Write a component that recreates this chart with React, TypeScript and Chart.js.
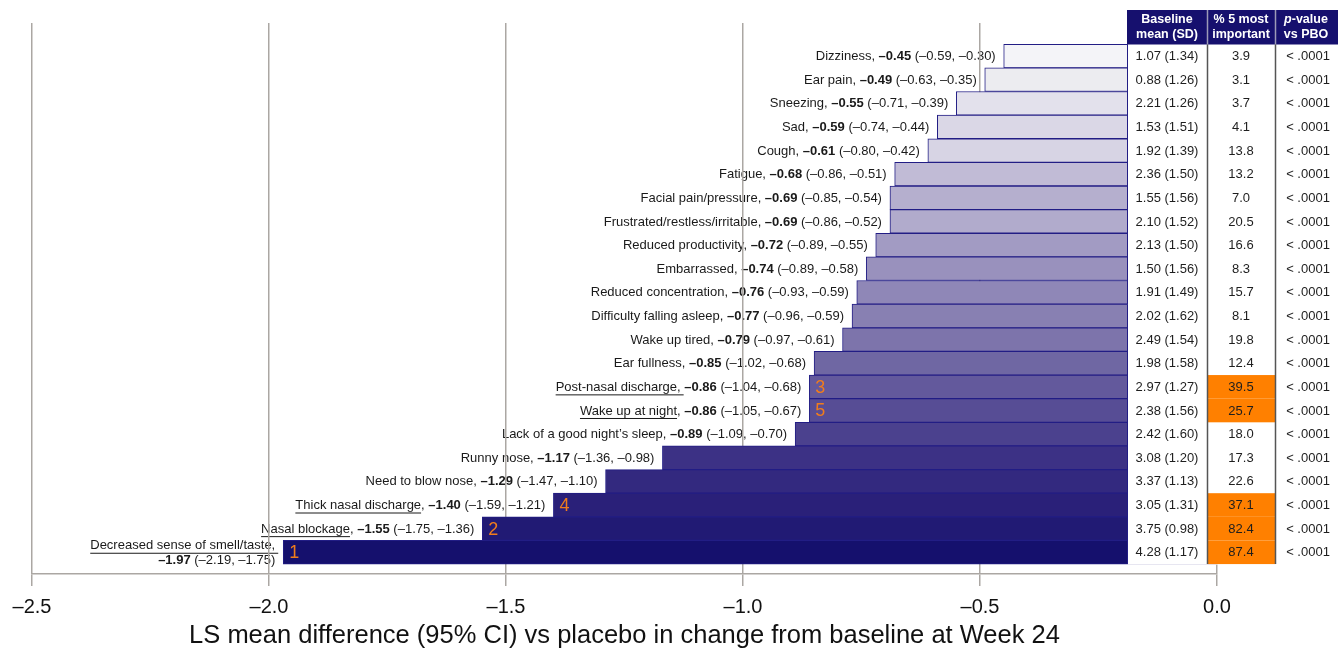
import React, { useEffect, useRef } from 'react';
import { Chart, registerables } from 'chart.js';

Chart.register(...registerables);

const SYMPTOMS = [
  'Dizziness', 'Ear pain', 'Sneezing', 'Sad', 'Cough', 'Fatigue', 'Facial pain/pressure',
  'Frustrated/restless/irritable', 'Reduced productivity', 'Embarrassed', 'Reduced concentration',
  'Difficulty falling asleep', 'Wake up tired', 'Ear fullness', 'Post-nasal discharge',
  'Wake up at night', 'Lack of a good night\u2019s sleep', 'Runny nose', 'Need to blow nose',
  'Thick nasal discharge', 'Nasal blockage', 'Decreased sense of smell/taste',
];
const LS_MEAN_DIFF = [-0.45, -0.49, -0.55, -0.59, -0.61, -0.68, -0.69, -0.69, -0.72, -0.74, -0.76, -0.77, -0.79, -0.85, -0.86, -0.86, -0.89, -1.17, -1.29, -1.40, -1.55, -1.97];
const CI_LOW = [-0.59, -0.63, -0.71, -0.74, -0.80, -0.86, -0.85, -0.86, -0.89, -0.89, -0.93, -0.96, -0.97, -1.02, -1.04, -1.05, -1.09, -1.36, -1.47, -1.59, -1.75, -2.19];
const CI_HIGH = [-0.30, -0.35, -0.39, -0.44, -0.42, -0.51, -0.54, -0.52, -0.55, -0.58, -0.59, -0.59, -0.61, -0.68, -0.68, -0.67, -0.70, -0.98, -1.10, -1.21, -1.36, -1.75];
const BASELINE_MEAN = ['1.07', '0.88', '2.21', '1.53', '1.92', '2.36', '1.55', '2.10', '2.13', '1.50', '1.91', '2.02', '2.49', '1.98', '2.97', '2.38', '2.42', '3.08', '3.37', '3.05', '3.75', '4.28'];
const BASELINE_SD = ['1.34', '1.26', '1.26', '1.51', '1.39', '1.50', '1.56', '1.52', '1.50', '1.56', '1.49', '1.62', '1.54', '1.58', '1.27', '1.56', '1.60', '1.20', '1.13', '1.31', '0.98', '1.17'];
const PCT_TOP5 = ['3.9', '3.1', '3.7', '4.1', '13.8', '13.2', '7.0', '20.5', '16.6', '8.3', '15.7', '8.1', '19.8', '12.4', '39.5', '25.7', '18.0', '17.3', '22.6', '37.1', '82.4', '87.4'];
const P_VALUE = ['< .0001', '< .0001', '< .0001', '< .0001', '< .0001', '< .0001', '< .0001', '< .0001', '< .0001', '< .0001', '< .0001', '< .0001', '< .0001', '< .0001', '< .0001', '< .0001', '< .0001', '< .0001', '< .0001', '< .0001', '< .0001', '< .0001'];
const RANK = [null, null, null, null, null, null, null, null, null, null, null, null, null, null, 3, 5, null, null, null, 4, 2, 1];
const X_TICKS_STEP = 0.5;
const X_TITLE = 'LS mean difference (95% CI) vs placebo in change from baseline at Week 24';
const HEADERS = [['Baseline', 'mean (SD)'], ['% 5 most', 'important'], ['p-value', 'vs PBO']];

// styles
const BAR_COLORS = [
  '#f4f4f8', '#ececf0', '#e3e1ec', '#dad7e6', '#d7d4e4', '#c1bbd6', '#b5afce', '#b1abcc',
  '#a29bc3', '#9991bd', '#8f87b7', '#8880b2', '#7d74ab', '#6f67a3', '#63599c', '#574d95',
  '#4b418e', '#3c3185', '#33297f', '#2a2079', '#211a74', '#15106d',
];
const UNDERLINE_COMMA = [14, 21];
const FONT = '"Liberation Sans", Arial, sans-serif';
const NAVY = '#16106e';
const ORANGE = '#ff8000';
const GRID = '#aba7a3';
const TABLE_LEFT = 1127;
const TABLE_RIGHT = 1338;
const COL_SEP = [1207.5, 1275.5];
const COL_CENTERS = [1167, 1241, 1308];
const HEADER_TOP = 10;
const HEADER_BOTTOM = 44.5;

const fmt = (v: number) => (v < 0 ? '\u2013' : '') + Math.abs(v).toFixed(2);

function rowGeom(chart: any) {
  const y = chart.scales.y;
  const h = y.getPixelForValue(1) - y.getPixelForValue(0);
  return { y, h };
}

const labelsPlugin = {
  id: 'symptomLabels',
  beforeDraw(chart: any) {
    const ctx = chart.ctx;
    const x = chart.scales.x;
    const { y } = rowGeom(chart);
    ctx.save();
    ctx.textBaseline = 'middle';
    ctx.fillStyle = '#1a1a1a';
    ctx.strokeStyle = '#1a1a1a';
    ctx.lineWidth = 1;
    const normal = `13px ${FONT}`;
    const bold = `bold 13px ${FONT}`;
    SYMPTOMS.forEach((name, i) => {
      const cy = y.getPixelForValue(i) + 0.5;
      const right = x.getPixelForValue(LS_MEAN_DIFF[i]) - 8;
      const underline = RANK[i] !== null;
      const uComma = UNDERLINE_COMMA.includes(i);
      const seg1 = name + ', ';
      const seg2 = fmt(LS_MEAN_DIFF[i]);
      const seg3 = ` (${fmt(CI_LOW[i])}, ${fmt(CI_HIGH[i])})`;
      ctx.font = normal;
      const w1 = ctx.measureText(seg1).width;
      const w3 = ctx.measureText(seg3).width;
      ctx.font = bold;
      const w2 = ctx.measureText(seg2).width;
      const total = w1 + w2 + w3;
      const drawName = (lx: number, ly: number, text: string) => {
        ctx.font = normal;
        ctx.fillText(text, lx, ly);
        if (underline) {
          const ut = uComma ? name + ',' : name;
          const uw = ctx.measureText(ut).width + (uComma ? 3 : 0);
          ctx.beginPath();
          ctx.moveTo(lx, ly + 7.5);
          ctx.lineTo(lx + uw, ly + 7.5);
          ctx.stroke();
        }
      };
      if (right - total < chart.chartArea.left) {
        const l1 = name + ',';
        ctx.font = normal;
        const wl1 = ctx.measureText(l1).width;
        drawName(right - wl1, cy - 7, l1);
        const lx = right - w2 - w3;
        ctx.font = bold;
        ctx.fillText(seg2, lx, cy + 7.5);
        ctx.font = normal;
        ctx.fillText(seg3, lx + w2, cy + 7.5);
      } else {
        const lx = right - total;
        drawName(lx, cy, seg1);
        ctx.font = bold;
        ctx.fillText(seg2, lx + w1, cy);
        ctx.font = normal;
        ctx.fillText(seg3, lx + w1 + w2, cy);
      }
    });
    const ca = chart.chartArea;
    ctx.font = `25.5px ${FONT}`;
    ctx.fillStyle = '#111111';
    ctx.textAlign = 'center';
    ctx.fillText(X_TITLE, (ca.left + ca.right) / 2, 635.5);
    ctx.restore();
  },
};

const tablePlugin = {
  id: 'sideTable',
  afterDatasetsDraw(chart: any) {
    const ctx = chart.ctx;
    const x = chart.scales.x;
    const { y, h } = rowGeom(chart);
    const n = SYMPTOMS.length;
    const firstTop = y.getPixelForValue(0) - h / 2;
    const lastBottom = y.getPixelForValue(n - 1) + h / 2;
    ctx.save();
    ctx.font = `18px ${FONT}`;
    ctx.fillStyle = '#f07c1c';
    ctx.textBaseline = 'middle';
    ctx.textAlign = 'left';
    RANK.forEach((r, i) => {
      if (r === null) return;
      ctx.fillText(String(r), x.getPixelForValue(LS_MEAN_DIFF[i]) + 6, y.getPixelForValue(i) + 1);
    });
    ctx.fillStyle = '#ffffff';
    ctx.fillRect(TABLE_LEFT + 0.5, HEADER_TOP, TABLE_RIGHT - TABLE_LEFT, lastBottom - HEADER_TOP + 0.5);
    ctx.strokeStyle = '#221d85';
    ctx.lineWidth = 1;
    ctx.beginPath();
    ctx.moveTo(TABLE_LEFT + 0.5, firstTop);
    ctx.lineTo(TABLE_LEFT + 0.5, lastBottom);
    ctx.stroke();
    ctx.fillStyle = NAVY;
    ctx.fillRect(TABLE_LEFT, HEADER_TOP, TABLE_RIGHT - TABLE_LEFT, HEADER_BOTTOM - HEADER_TOP);
    ctx.strokeStyle = '#9c9ab8';
    ctx.lineWidth = 1.5;
    COL_SEP.forEach((cx) => {
      ctx.beginPath();
      ctx.moveTo(cx, HEADER_TOP);
      ctx.lineTo(cx, HEADER_BOTTOM);
      ctx.stroke();
    });
    ctx.fillStyle = '#ffffff';
    ctx.textAlign = 'center';
    HEADERS.forEach((lines, c) => {
      lines.forEach((t, k) => {
        const ly = HEADER_TOP + 9.5 + k * 15.5;
        if (t.startsWith('p-')) {
          ctx.font = `italic bold 12.5px ${FONT}`;
          const wp = ctx.measureText('p').width;
          ctx.font = `bold 12.5px ${FONT}`;
          const wr = ctx.measureText(t.slice(1)).width;
          const lx = COL_CENTERS[c] - 2 - (wp + wr) / 2;
          ctx.textAlign = 'left';
          ctx.font = `italic bold 12.5px ${FONT}`;
          ctx.fillText('p', lx, ly);
          ctx.font = `bold 12.5px ${FONT}`;
          ctx.fillText(t.slice(1), lx + wp, ly);
          ctx.textAlign = 'center';
        } else {
          ctx.font = `bold 12.5px ${FONT}`;
          ctx.fillText(t, COL_CENTERS[c] + (c === 2 ? -2 : 0), ly);
        }
      });
    });
    ctx.fillStyle = ORANGE;
    RANK.forEach((r, i) => {
      if (r === null) return;
      const cy = y.getPixelForValue(i);
      ctx.fillRect(COL_SEP[0], cy - h / 2, COL_SEP[1] - COL_SEP[0], h);
    });
    ctx.strokeStyle = '#555555';
    ctx.lineWidth = 1.5;
    COL_SEP.forEach((cx) => {
      ctx.beginPath();
      ctx.moveTo(cx, HEADER_BOTTOM);
      ctx.lineTo(cx, lastBottom);
      ctx.stroke();
    });
    ctx.font = `13px ${FONT}`;
    ctx.fillStyle = '#1e1e1e';
    ctx.textAlign = 'center';
    for (let i = 0; i < n; i++) {
      const cy = y.getPixelForValue(i) + 0.5;
      ctx.fillText(`${BASELINE_MEAN[i]} (${BASELINE_SD[i]})`, COL_CENTERS[0], cy);
      ctx.fillText(PCT_TOP5[i], COL_CENTERS[1], cy);
      ctx.fillText(P_VALUE[i], COL_CENTERS[2], cy);
    }
    ctx.restore();
  },
};

export default function App() {
  const canvasRef = useRef<HTMLCanvasElement | null>(null);
  useEffect(() => {
    if (!canvasRef.current) return;
    Chart.defaults.font.family = FONT;
    const chart = new Chart(canvasRef.current, {
      type: 'bar',
      data: {
        datasets: [
          {
            data: LS_MEAN_DIFF.map((v, i) => ({ x: v, y: i })),
            backgroundColor: BAR_COLORS,
            borderColor: '#221d85',
            borderWidth: 1,
            barPercentage: 1,
            categoryPercentage: 1,
          },
        ],
      },
      options: {
        indexAxis: 'y',
        animation: false,
        responsive: true,
        maintainAspectRatio: false,
        layout: { padding: { left: 32, right: 121, top: 23, bottom: 20 } },
        plugins: { legend: { display: false }, tooltip: { enabled: false }, title: { display: false } },
        scales: {
          y: {
            type: 'linear',
            reverse: true,
            min: -1.4,
            max: 21.92,
            offset: false,
            display: false,
          },
          x: {
            type: 'linear',
            min: -2.5,
            max: 0,
            ticks: {
              stepSize: X_TICKS_STEP,
              color: '#111111',
              font: { size: 20 },
              padding: 9,
              callback: (value: any) => {
                const v = Number(value);
                return v === 0 ? '0.0' : (v < 0 ? '\u2013' : '') + Math.abs(v).toFixed(1);
              },
            },
            grid: { color: GRID, lineWidth: 1.5, tickLength: 12, drawTicks: true },
            border: { display: true, color: GRID, width: 1.5 },
            title: { display: false },
          },
        },
      },
      plugins: [labelsPlugin, tablePlugin],
    });
    return () => chart.destroy();
  }, []);
  return (
    <div style={{ position: 'fixed', left: 0, top: 0, width: 1338, height: 648, background: '#fff' }}>
      <canvas ref={canvasRef} />
    </div>
  );
}
